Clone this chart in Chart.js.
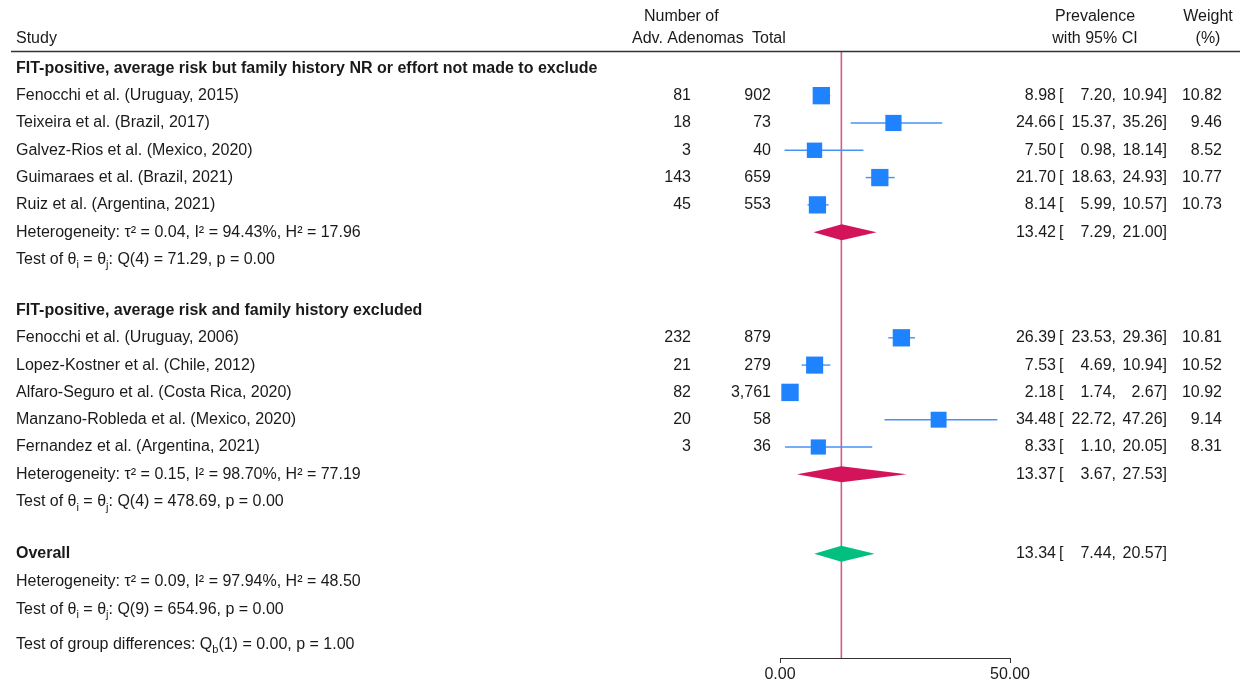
<!DOCTYPE html>
<html>
<head>
<meta charset="utf-8">
<title>Forest plot</title>
<script src="https://cdn.jsdelivr.net/npm/chart.js@4.4.1/dist/chart.umd.min.js"></script>
<style>
html, body { margin: 0; padding: 0; background: #fff; }
#wrap { width: 1242px; height: 686px; position: relative; }
</style>
</head>
<body>
<div id="wrap"><canvas id="chart"></canvas></div>
<script>
// data
const groupTitles = [
    'FIT-positive, average risk but family history NR or effort not made to exclude',
    'FIT-positive, average risk and family history excluded'
];
const studyNames = [
    'Fenocchi et al. (Uruguay, 2015)',
    'Teixeira et al. (Brazil, 2017)',
    'Galvez-Rios et al. (Mexico, 2020)',
    'Guimaraes et al. (Brazil, 2021)',
    'Ruiz et al. (Argentina, 2021)',
    'Fenocchi et al. (Uruguay, 2006)',
    'Lopez-Kostner et al. (Chile, 2012)',
    'Alfaro-Seguro et al. (Costa Rica, 2020)',
    'Manzano-Robleda et al. (Mexico, 2020)',
    'Fernandez et al. (Argentina, 2021)'
];
const studyGroup  = [0, 0, 0, 0, 0, 1, 1, 1, 1, 1];
const advAdenomas = [81, 18, 3, 143, 45, 232, 21, 82, 20, 3];
const totals      = [902, 73, 40, 659, 553, 879, 279, 3761, 58, 36];
const prevalence  = [8.98, 24.66, 7.50, 21.70, 8.14, 26.39, 7.53, 2.18, 34.48, 8.33];
const ciLow       = [7.20, 15.37, 0.98, 18.63, 5.99, 23.53, 4.69, 1.74, 22.72, 1.10];
const ciHigh      = [10.94, 35.26, 18.14, 24.93, 10.57, 29.36, 10.94, 2.67, 47.26, 20.05];
const weights     = [10.82, 9.46, 8.52, 10.77, 10.73, 10.81, 10.52, 10.92, 9.14, 8.31];

// pooled: group 1, group 2, overall
const pooledEst  = [13.42, 13.37, 13.34];
const pooledLow  = [7.29, 3.67, 7.44];
const pooledHigh = [21.00, 27.53, 20.57];
const hetTau2 = ['0.04', '0.15', '0.09'];
const hetI2   = ['94.43', '98.70', '97.94'];
const hetH2   = ['17.96', '77.19', '48.50'];
const qDf     = [4, 4, 9];
const qStat   = ['71.29', '478.69', '654.96'];
const qP      = ['0.00', '0.00', '0.00'];
const groupDiff = { df: 1, q: '0.00', p: '1.00' };

const xTicks = [0, 50];

// ---- layout (row positions in y units) ----
const FONT = '"Liberation Sans", Arial, Helvetica, sans-serif';
const TXT = '#1a1a1a';
const BLUE = '#1f82ff';
const CI_BLUE = '#4693f6';
const RED = '#d4145a';
const GREEN = '#00bf7f';
const VLINE = '#d65a86';

const rows = [];
let pos = 0;
groupTitles.forEach((g, gi) => {
    if (gi > 0) pos += 1.87;
    rows.push({ kind: 'title', text: g, y: pos });
    studyNames.forEach((s, i) => {
        if (studyGroup[i] === gi) { pos += 1; rows.push({ kind: 'study', i: i, y: pos }); }
    });
    pos += 1; rows.push({ kind: 'het', k: gi, y: pos, diamond: true });
    pos += 1; rows.push({ kind: 'test', k: gi, y: pos });
});
pos += 1.91; rows.push({ kind: 'overall', k: 2, y: pos, diamond: true });
pos += 1.02; rows.push({ kind: 'het', k: 2, y: pos });
pos += 1.02; rows.push({ kind: 'test', k: 2, y: pos });
pos += 1.28; rows.push({ kind: 'diff', y: pos });

const Y_MIN = -0.6, Y_MAX = 21.6;
const DH = 0.293; // diamond half height

// ---- datasets ----
const datasets = [];
datasets.push({
    label: 'overall line',
    data: [{ x: pooledEst[2], y: Y_MIN }, { x: pooledEst[2], y: Y_MAX }],
    borderColor: VLINE, borderWidth: 1.6, pointRadius: 0, order: 4
});
rows.filter(r => r.kind === 'study').forEach(r => {
    datasets.push({
        label: 'ci ' + r.i,
        data: [{ x: ciLow[r.i], y: r.y }, { x: ciHigh[r.i], y: r.y }],
        borderColor: CI_BLUE, borderWidth: 1.4, pointRadius: 0, order: 3
    });
});
const studyRows = rows.filter(r => r.kind === 'study');
datasets.push({
    label: 'studies',
    data: studyRows.map(r => ({ x: prevalence[r.i], y: r.y })),
    showLine: false,
    pointStyle: 'rect',
    pointRadius: studyRows.map(r => 17.4 * Math.sqrt(weights[r.i] / 10.92) / Math.SQRT2),
    pointBackgroundColor: BLUE,
    pointBorderWidth: 0,
    order: 2
});
rows.filter(r => r.diamond).forEach(r => {
    const c = r.k === 2 ? GREEN : RED;
    datasets.push({
        label: 'pooled ' + r.k,
        data: [
            { x: pooledLow[r.k], y: r.y },
            { x: pooledEst[r.k], y: r.y - DH },
            { x: pooledHigh[r.k], y: r.y },
            { x: pooledEst[r.k], y: r.y + DH },
            { x: pooledLow[r.k], y: r.y }
        ],
        borderColor: 'rgba(0,0,0,0)', borderWidth: 0,
        backgroundColor: c, fill: 'shape', pointRadius: 0, order: 1
    });
});

// ---- text columns ----
function rich(ctx, parts, x, y) {
    let cx = x;
    parts.forEach(p => {
        const isSub = typeof p !== 'string';
        const t = isSub ? p.sub : p;
        ctx.font = (isSub ? '11px ' : '16px ') + FONT;
        ctx.fillText(t, cx, isSub ? y + 6 : y);
        cx += ctx.measureText(t).width;
    });
}

const tablePlugin = {
    id: 'table',
    afterDraw(chart) {
        const ctx = chart.ctx;
        const ys = chart.scales.y;
        const top = chart.chartArea.top;
        ctx.save();
        ctx.fillStyle = TXT;
        ctx.textBaseline = 'middle';

        // header
        ctx.font = '16px ' + FONT;
        ctx.textAlign = 'left';
        ctx.fillText('Study', 16, 39);
        ctx.fillText('Number of', 644, 17);
        ctx.fillText('Adv. Adenomas', 632, 39);
        ctx.fillText('Total', 752, 39);
        ctx.textAlign = 'center';
        ctx.fillText('Prevalence', 1095, 17);
        ctx.fillText('with 95% CI', 1095, 39);
        ctx.fillText('Weight', 1208, 17);
        ctx.fillText('(%)', 1208, 39);

        ctx.strokeStyle = '#333';
        ctx.lineWidth = 1.5;
        ctx.beginPath();
        ctx.moveTo(11, top - 0.5);
        ctx.lineTo(1240, top - 0.5);
        ctx.stroke();

        const ciText = (est, lo, hi, y) => {
            ctx.font = '16px ' + FONT;
            ctx.textAlign = 'right';
            ctx.fillText(est.toFixed(2), 1056, y);
            ctx.textAlign = 'left';
            ctx.fillText('[', 1059, y);
            ctx.textAlign = 'right';
            ctx.fillText(lo.toFixed(2) + ',', 1116, y);
            ctx.fillText(hi.toFixed(2) + ']', 1167, y);
        };

        rows.forEach(r => {
            const y = ys.getPixelForValue(r.y);
            ctx.textAlign = 'left';
            if (r.kind === 'title') {
                ctx.font = 'bold 16px ' + FONT;
                ctx.fillText(r.text, 16, y);
            } else if (r.kind === 'study') {
                const i = r.i;
                ctx.font = '16px ' + FONT;
                ctx.fillText(studyNames[i], 16, y);
                ctx.textAlign = 'right';
                ctx.fillText(String(advAdenomas[i]), 691, y);
                ctx.fillText(totals[i].toLocaleString('en-US'), 771, y);
                ciText(prevalence[i], ciLow[i], ciHigh[i], y);
                ctx.textAlign = 'right';
                ctx.fillText(weights[i].toFixed(2), 1222, y);
            } else if (r.kind === 'het') {
                ctx.font = '16px ' + FONT;
                ctx.fillText('Heterogeneity: \u03C4\u00B2 = ' + hetTau2[r.k] + ', I\u00B2 = ' + hetI2[r.k] +
                    '%, H\u00B2 = ' + hetH2[r.k], 16, y);
                if (r.diamond) ciText(pooledEst[r.k], pooledLow[r.k], pooledHigh[r.k], y);
            } else if (r.kind === 'test') {
                rich(ctx, ['Test of \u03B8', { sub: 'i' }, ' = \u03B8', { sub: 'j' },
                    ': Q(' + qDf[r.k] + ') = ' + qStat[r.k] + ', p = ' + qP[r.k]], 16, y);
            } else if (r.kind === 'overall') {
                ctx.font = 'bold 16px ' + FONT;
                ctx.fillText('Overall', 16, y);
                ciText(pooledEst[2], pooledLow[2], pooledHigh[2], y);
            } else if (r.kind === 'diff') {
                rich(ctx, ['Test of group differences: Q', { sub: 'b' },
                    '(' + groupDiff.df + ') = ' + groupDiff.q + ', p = ' + groupDiff.p], 16, y);
            }
        });
        ctx.restore();
    }
};

new Chart(document.getElementById('chart'), {
    type: 'line',
    data: { datasets: datasets },
    options: {
        responsive: true,
        maintainAspectRatio: false,
        animation: false,
        events: [],
        layout: { padding: { left: 780, right: 232, top: 52, bottom: 0 } },
        plugins: { legend: { display: false }, tooltip: { enabled: false } },
        scales: {
            x: {
                type: 'linear',
                min: 0, max: 50,
                afterBuildTicks: s => { s.ticks = xTicks.map(v => ({ value: v })); },
                afterFit: s => { s.height = 28; },
                grid: { display: true, drawOnChartArea: false, drawTicks: true, tickLength: 5, color: '#333', lineWidth: 1 },
                border: { display: true, color: '#333', width: 1 },
                ticks: {
                    padding: 2, autoSkip: false, maxRotation: 0, color: TXT,
                    font: { family: FONT, size: 16 },
                    callback: v => Number(v).toFixed(2)
                }
            },
            y: {
                type: 'linear', display: false, reverse: true,
                min: Y_MIN, max: Y_MAX
            }
        }
    },
    plugins: [tablePlugin]
});
</script>
</body>
</html>
